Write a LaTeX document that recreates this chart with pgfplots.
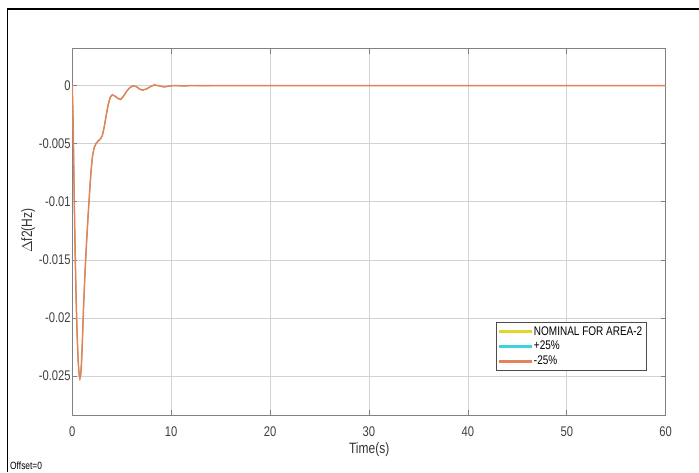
\documentclass[border=0pt]{standalone}
\usepackage{pgfplots}
\pgfplotsset{compat=1.18}
\usepackage{fontspec}
\setmainfont{Liberation Sans}[FakeStretch=0.8]
\definecolor{lyel}{RGB}{225,215,40}
\definecolor{lcya}{RGB}{60,210,222}
\definecolor{lora}{RGB}{228,130,90}
\definecolor{axgray}{RGB}{130,130,130}
\pgfplotstableread{
t v
0 0
0.05 -0.0015
0.1 -0.0035
0.2 -0.0095
0.3 -0.0145
0.4 -0.0185
0.5 -0.0215
0.6 -0.0237
0.7 -0.0249
0.78 -0.0252
0.86 -0.0249
0.95 -0.0237
1.05 -0.0215
1.15 -0.0190
1.3 -0.0160
1.45 -0.0135
1.6 -0.0113
1.75 -0.0093
1.9 -0.0074
2.05 -0.0061
2.2 -0.0054
2.4 -0.0050
2.6 -0.0048
2.85 -0.0046
3.05 -0.0043
3.25 -0.0035
3.45 -0.0025
3.65 -0.0016
3.85 -0.0010
4.05 -0.0008
4.3 -0.0009
4.6 -0.0011
4.9 -0.0012
5.2 -0.0009
5.5 -0.0005
5.8 -0.0002
6.15 -0.00002
6.5 -0.0001
6.8 -0.0003
7.1 -0.0004
7.5 -0.0003
7.9 -0.0001
8.3 0.00005
8.8 -0.00003
9.3 -0.00012
9.8 -0.00005
10.3 0
10.8 -0.00002
11.3 -0.00004
11.8 -0.00001
12.4 0
13.0 -0.00002
13.6 -0.00002
14.5 0
60 0
}\datatbl
\begin{document}
\begin{tikzpicture}[x=1pt,y=1pt]
\useasboundingbox (0,0) rectangle (699,472);
\fill[white] (0,0) rectangle (699,472);
\draw[black,line width=1.6pt] (7.5,0) -- (7.5,463) -- (699,463);
\begin{axis}[
  at={(73,49)}, anchor=south west,
  scale only axis, width=593.5pt, height=366.5pt,
  xmin=0, xmax=60, ymin=-0.02836, ymax=0.00318,
  xtick={0,10,20,30,40,50,60},
  ytick={-0.025,-0.02,-0.015,-0.01,-0.005,0},
  yticklabels={-0.025,-0.02,-0.015,-0.01,-0.005,0},
  scaled y ticks=false,
  /pgf/number format/assume math mode=true,
  tick label style={font=\fontsize{14}{16}\selectfont, text=black!75},
  xticklabel style={yshift=-8pt},
  yticklabel style={xshift=2pt},
  grid=major, major grid style={gray!35, line width=0.6pt},
  axis line style={axgray, line width=0.8pt},
  tick style={axgray, line width=0.6pt},
  major tick length=5pt, tick align=inside, tick pos=both,
  xlabel={Time(s)}, ylabel={$\Delta$f2(Hz)},
  label style={font=\fontsize{15}{17}\selectfont, text=black!80},
  xlabel style={at={(axis description cs:0.5004,-0.0941)}, anchor=center},
  ylabel style={at={(axis description cs:-0.0741,0.503)}, anchor=center},
  legend style={at={(axis description cs:0.9688,0.2551)}, anchor=north east,
    font=\fontsize{12.5}{14}\selectfont, draw=black!70, line width=0.8pt,
    row sep=0.5pt, inner sep=2.5pt, cells={anchor=west}},
  clip=true,
]
\addlegendimage{legend image code/.code={\fill[lyel] (3pt,-0.9pt) rectangle (35pt,0.9pt);}}
\addlegendentry{NOMINAL FOR AREA-2}
\addlegendimage{legend image code/.code={\fill[lcya] (3pt,-0.9pt) rectangle (35pt,0.9pt);}}
\addlegendentry{+25\%}
\addlegendimage{legend image code/.code={\fill[lora] (3pt,-0.9pt) rectangle (35pt,0.9pt);}}
\addlegendentry{-25\%}
\addplot[lyel, line width=0.8pt, forget plot] table[x=t,y=v]{\datatbl};
\addplot[lcya, line width=0.8pt, forget plot] table[x=t,y=v]{\datatbl};
\addplot[lora, line width=1.5pt, forget plot] table[x=t,y=v]{\datatbl};
\end{axis}
\node[anchor=west, font=\fontsize{10.5}{12}\selectfont, inner sep=0pt] at (10,6) {Offset=0};
\end{tikzpicture}
\end{document}
